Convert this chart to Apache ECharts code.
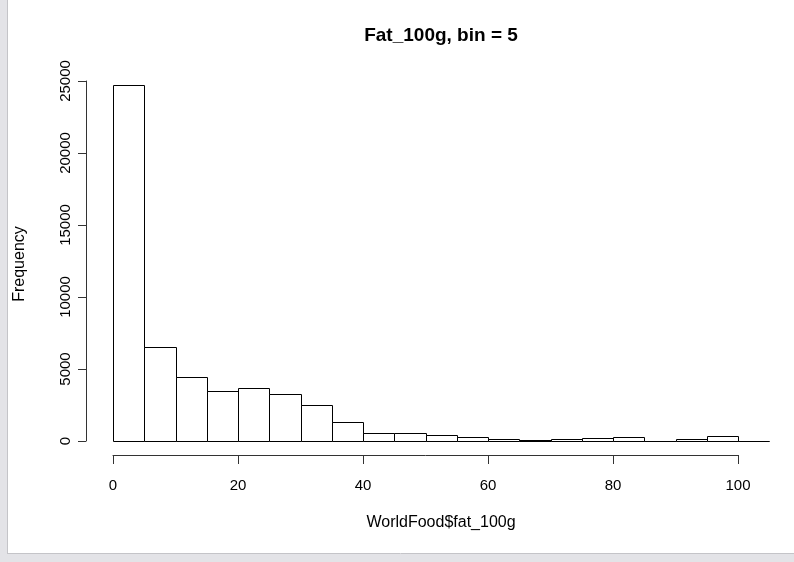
<!DOCTYPE html>
<html>
<head>
<meta charset="utf-8">
<script src="https://cdn.jsdelivr.net/npm/echarts@6/dist/echarts.min.js"></script>
<style>
  html, body { margin: 0; padding: 0; background: #fff; }
  #main { width: 794px; height: 562px; }
</style>
</head>
<body>
<div id="main"></div>
<script>
// histogram of WorldFood$fat_100g, bin width 5
const binStarts = [0, 5, 10, 15, 20, 25, 30, 35, 40, 45, 50, 55, 60, 65, 70, 75, 80, 85, 90, 95, 100]
const binWidth = 5
const counts = [24720, 6550, 4440, 3450, 3680, 3240, 2480, 1320, 580, 530, 430, 300, 140, 100, 170, 190, 270, 0, 150, 330, 0]
const xTicks = [0, 20, 40, 60, 80, 100]
const yTicks = [0, 5000, 10000, 15000, 20000, 25000]

const font = '"Liberation Sans", Arial, Helvetica, sans-serif'
const histData = binStarts.map((s, i) => [s, s + binWidth, counts[i]])

let chart = echarts.init(document.getElementById('main'))

const renderBar = (params, api) => {
  let p0 = api.coord([api.value(0), 0])
  let p1 = api.coord([api.value(1), api.value(2)])
  let x0 = Math.round(p0[0]) + 0.5
  let x1 = Math.round(p1[0]) + 0.5
  let yb = Math.round(p0[1]) + 0.5
  let yt = Math.round(p1[1]) + 0.5
  return {
    type: 'rect',
    shape: {x: x0, y: yt, width: x1 - x0, height: yb - yt},
    style: {fill: '#fff', stroke: '#000', lineWidth: 1}
  }
}

let option = {
  animation: false,
  backgroundColor: '#fff',
  title: {
    text: 'Fat_100g, bin = 5',
    left: 436,
    top: 21,
    textAlign: 'center',
    textStyle: {fontFamily: font, fontSize: 19, fontWeight: 'bold', color: '#000'}
  },
  grid: [
    {left: 113, top: 81, width: 656.25, height: 360}, // bars
    {left: 113, top: 81, width: 625, height: 374},    // x axis
    {left: 86, top: 81, width: 10, height: 360}       // y axis
  ],
  xAxis: [
    {gridIndex: 0, type: 'value', min: 0, max: 105, show: false},
    {
      gridIndex: 1, type: 'value', min: 0, max: 100, interval: 20,
      axisLine: {show: true, lineStyle: {color: '#333', width: 1}},
      axisTick: {show: true, length: 9, lineStyle: {color: '#333'}},
      axisLabel: {margin: 23, color: '#000', fontSize: 15, fontFamily: font,
        customValues: xTicks},
      splitLine: {show: false}
    },
    {gridIndex: 2, type: 'value', show: false}
  ],
  yAxis: [
    {gridIndex: 0, type: 'value', min: 0, max: 25000, show: false},
    {gridIndex: 1, type: 'value', show: false},
    {
      gridIndex: 2, type: 'value', min: 0, max: 25000, interval: 5000,
      axisLine: {show: true, lineStyle: {color: '#333', width: 1}},
      axisTick: {show: true, length: 8, lineStyle: {color: '#333'}},
      axisLabel: {margin: 13, rotate: 90, color: '#000', fontSize: 15, fontFamily: font,
        customValues: yTicks, formatter: v => String(v)},
      splitLine: {show: false}
    }
  ],
  series: [
    {
      type: 'custom',
      xAxisIndex: 0,
      yAxisIndex: 0,
      renderItem: renderBar,
      encode: {x: [0, 1], y: 2},
      data: histData,
      silent: true
    }
  ],
  graphic: [
    {
      type: 'text', x: 441, y: 523,
      style: {text: 'WorldFood$fat_100g', fill: '#000', font: '16px ' + font,
        align: 'center', verticalAlign: 'middle'}
    },
    {
      type: 'text', x: 20, y: 264, rotation: Math.PI / 2,
      style: {text: 'Frequency', fill: '#000', font: '16px ' + font,
        align: 'center', verticalAlign: 'middle'}
    },
    //窗口边框
    {type: 'rect', shape: {x: 0, y: 0, width: 7, height: 562}, style: {fill: '#e3e3e7'}},
    {type: 'rect', shape: {x: 0, y: 554, width: 794, height: 8}, style: {fill: '#e3e3e7'}},
    {type: 'line', shape: {x1: 7.5, y1: 0, x2: 7.5, y2: 554}, style: {stroke: '#c4c4c8', lineWidth: 1}},
    {type: 'line', shape: {x1: 7, y1: 553.5, x2: 794, y2: 553.5}, style: {stroke: '#c4c4c8', lineWidth: 1}}
  ]
}

chart.setOption(option)
</script>
</body>
</html>
